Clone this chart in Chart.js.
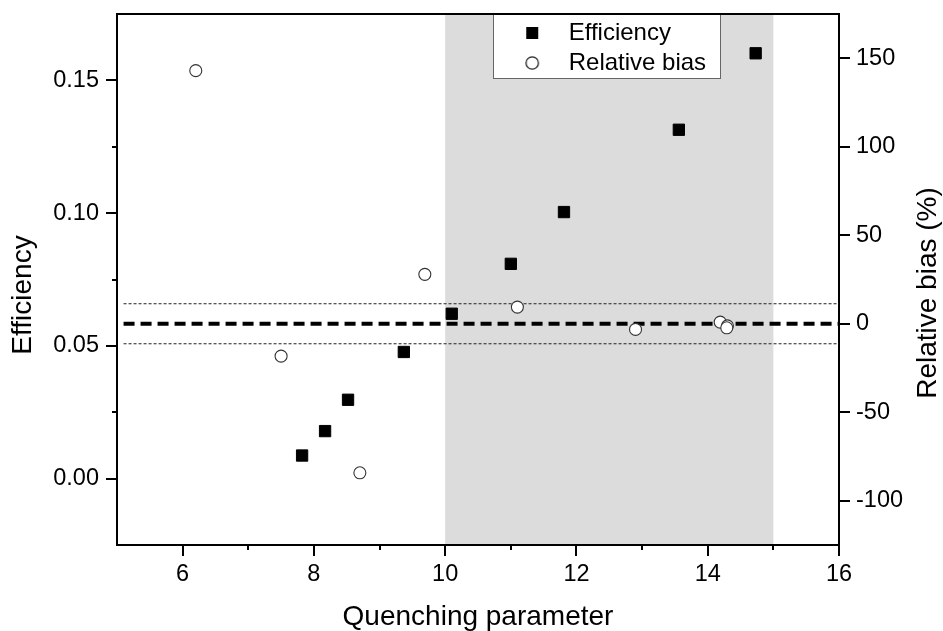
<!DOCTYPE html>
<html>
<head>
<meta charset="utf-8">
<script src="https://cdn.jsdelivr.net/npm/chart.js@4/dist/chart.umd.min.js"></script>
<style>
  html, body { margin: 0; padding: 0; background: #fff; }
  canvas { display: block; }
</style>
</head>
<body>
<canvas id="c" width="943" height="631"></canvas>
<script>
// ---- data ----
const effX = [7.82, 8.17, 8.52, 9.37, 10.10, 11.00, 11.81, 13.56, 14.73];
const effY = [0.0087, 0.0179, 0.0297, 0.0477, 0.0621, 0.0809, 0.1004, 0.1314, 0.1602];
const biasX = [6.20, 7.50, 8.70, 9.69, 11.10, 12.90, 14.19, 14.30, 14.29];
const biasY = [143.0, -18.3, -84.2, 27.9, 9.4, -3.2, 0.9, -1.2, -2.3];
const meanLine = 0;              // relative bias (%)
const bandLines = [11.3, -11.3]; // relative bias (%)
const shadeRange = [10, 15];     // quenching parameter
const seriesNames = ['Efficiency', 'Relative bias'];
const xTitle = 'Quenching parameter';
const yTitle = 'Efficiency';
const y2Title = 'Relative bias (%)';

const FONT = 'Liberation Sans, Arial, sans-serif';
Chart.defaults.font.family = FONT;
Chart.defaults.color = '#000';

const pts = (xs, ys) => xs.map((x, i) => ({x: x, y: ys[i]}));
const hline = (v) => [{x: 5.1, y: v}, {x: 16, y: v}];

// legend icons
function icon(kind) {
  const c = document.createElement('canvas');
  c.width = 16; c.height = 16;
  const g = c.getContext('2d');
  if (kind === 'rect') {
    g.fillStyle = '#000';
    g.fillRect(2, 2, 12, 12);
  } else {
    g.beginPath();
    g.arc(8, 8, 6.2, 0, Math.PI * 2);
    g.fillStyle = '#fff'; g.fill();
    g.lineWidth = 1.3; g.strokeStyle = '#222'; g.stroke();
  }
  return c;
}
const legendIcons = [icon('rect'), icon('circle')];

const LEG = {x: 493, w: 227, h: 64};

const noPad = (s) => { s.paddingTop = 0; s.paddingBottom = 0; s.paddingLeft = 0; s.paddingRight = 0; };

const decor = {
  id: 'decor',
  beforeDraw(chart) {
    const {ctx, chartArea: a, scales: {x}} = chart;
    ctx.save();
    ctx.fillStyle = '#fff';
    ctx.fillRect(0, 0, chart.width, chart.height);
    const x0 = x.getPixelForValue(shadeRange[0]);
    const x1 = x.getPixelForValue(shadeRange[1]);
    ctx.fillStyle = '#dcdcdc';
    ctx.fillRect(x0, a.top, x1 - x0, a.bottom - a.top);
    // legend frame
    ctx.fillStyle = '#fff';
    ctx.fillRect(LEG.x, a.top, LEG.w, LEG.h);
    ctx.strokeStyle = '#666';
    ctx.lineWidth = 1;
    ctx.strokeRect(LEG.x + 0.5, a.top + 0.5, LEG.w, LEG.h);
    ctx.restore();
    // move legend inside the box
    const lg = chart.legend;
    lg.left = LEG.x + 8.7;
    lg.top = a.top + 1;
    lg.right = LEG.x + LEG.w;
    lg.bottom = a.bottom;
  },
  afterDraw(chart) {
    const {ctx, chartArea: a, scales: {x, y, y2}} = chart;
    ctx.save();
    ctx.strokeStyle = '#000';
    ctx.lineWidth = 2;
    // top frame
    ctx.beginPath();
    ctx.moveTo(a.left - 1, a.top);
    ctx.lineTo(a.right + 1, a.top);
    ctx.stroke();
    ctx.beginPath();
    x.ticks.forEach(t => {
      if (t.value <= x.min) return;
      const p = Math.round(x.getPixelForValue(t.value));
      const len = Math.round(t.value) % 2 === 0 ? 11 : 5;
      ctx.moveTo(p, a.bottom);
      ctx.lineTo(p, a.bottom + len);
    });
    y.ticks.forEach(t => {
      if (t.value <= y.min || t.value >= y.max) return;
      const p = Math.round(y.getPixelForValue(t.value));
      const len = Math.round(t.value * 1000) % 50 === 0 ? 11 : 5;
      ctx.moveTo(a.left, p);
      ctx.lineTo(a.left - len, p);
    });
    y2.ticks.forEach(t => {
      if (Math.round(t.value) % 50 !== 0) return;
      const p = Math.round(y2.getPixelForValue(t.value));
      ctx.moveTo(a.right, p);
      ctx.lineTo(a.right + 11, p);
    });
    ctx.stroke();
    // vertical axis titles (both read bottom-to-top)
    ctx.fillStyle = '#000';
    ctx.font = '28px ' + FONT;
    ctx.textAlign = 'center';
    ctx.textBaseline = 'middle';
    const cy = (a.top + a.bottom) / 2 + 15.5;
    ctx.save();
    ctx.translate(23.6, cy);
    ctx.rotate(-Math.PI / 2);
    ctx.fillText(yTitle, 0, 0);
    ctx.restore();
    ctx.save();
    ctx.translate(928.3, cy - 2);
    ctx.rotate(-Math.PI / 2);
    ctx.fillText(y2Title, 0, 0);
    ctx.restore();
    ctx.restore();
  }
};

new Chart(document.getElementById('c'), {
  type: 'scatter',
  data: {
    datasets: [
      {
        label: seriesNames[0],
        data: pts(effX, effY),
        yAxisID: 'y',
        pointStyle: 'rect',
        pointRadius: 8,
        backgroundColor: '#000',
        borderColor: '#000',
        borderWidth: 1,
        order: 1
      },
      {
        label: seriesNames[1],
        data: pts(biasX, biasY),
        yAxisID: 'y2',
        pointStyle: 'circle',
        pointRadius: 6,
        backgroundColor: '#fff',
        borderColor: '#333',
        borderWidth: 1.1,
        order: 0
      },
      {
        label: 'mean',
        data: hline(meanLine),
        yAxisID: 'y2',
        showLine: true,
        pointRadius: 0,
        borderColor: '#000',
        borderWidth: 4,
        borderDash: [11, 6],
        order: 5
      },
      {
        label: 'upper',
        data: hline(bandLines[0]),
        yAxisID: 'y2',
        showLine: true,
        pointRadius: 0,
        borderColor: '#222',
        borderWidth: 1,
        borderDash: [3, 2],
        order: 6
      },
      {
        label: 'lower',
        data: hline(bandLines[1]),
        yAxisID: 'y2',
        showLine: true,
        pointRadius: 0,
        borderColor: '#222',
        borderWidth: 1,
        borderDash: [3, 2],
        order: 6
      }
    ]
  },
  options: {
    responsive: false,
    animation: false,
    events: [],
    layout: { padding: { top: 14, left: 0, right: 0, bottom: 0 } },
    plugins: {
      tooltip: { enabled: false },
      legend: {
        position: 'chartArea',
        align: 'start',
        labels: {
          usePointStyle: true,
          pointStyleWidth: 49,
          boxHeight: 12,
          padding: 6,
          color: '#000',
          font: { size: 24, family: FONT },
          generateLabels(chart) {
            const items = Chart.defaults.plugins.legend.labels.generateLabels(chart)
              .filter(it => it.datasetIndex < 2)
              .sort((p, q) => p.datasetIndex - q.datasetIndex);
            items.forEach(it => { it.pointStyle = legendIcons[it.datasetIndex]; });
            return items;
          }
        }
      }
    },
    scales: {
      x: {
        type: 'linear',
        position: 'bottom',
        min: 5, max: 16,
        afterFit(s) { s.height = 86; noPad(s); },
        ticks: {
          stepSize: 1,
          autoSkip: false,
          maxRotation: 0,
          padding: 5,
          font: { size: 23.5 },
          color: '#000',
          callback: v => (Math.round(v) % 2 === 0 ? String(v) : '')
        },
        grid: { display: true, drawOnChartArea: false, drawTicks: true, tickLength: 10, tickColor: 'rgba(0,0,0,0)' },
        border: { display: true, color: '#000', width: 2 },
        title: { display: true, text: xTitle, font: { size: 28, lineHeight: 1 }, color: '#000', padding: { top: 0, bottom: 0 } }
      },
      y: {
        type: 'linear',
        position: 'left',
        min: -0.025, max: 0.175,
        afterFit(s) { s.width = 117; noPad(s); },
        ticks: {
          stepSize: 0.025,
          autoSkip: false,
          padding: 8,
          font: { size: 23.5 },
          color: '#000',
          callback: v => {
            const r = Math.round(v * 1000);
            return r % 50 === 0 ? (r / 1000).toFixed(2) : '';
          }
        },
        grid: { display: true, drawOnChartArea: false, drawTicks: true, tickLength: 10, tickColor: 'rgba(0,0,0,0)' },
        border: { display: true, color: '#000', width: 2 },
        title: { display: false }
      },
      y2: {
        type: 'linear',
        position: 'right',
        min: -125, max: 175,
        afterFit(s) { s.width = 104; noPad(s); },
        ticks: {
          stepSize: 25,
          autoSkip: false,
          padding: 7,
          font: { size: 23.5 },
          color: '#000',
          callback: v => (Math.round(v) % 50 === 0 ? String(v) : '')
        },
        grid: { display: true, drawOnChartArea: false, drawTicks: true, tickLength: 10, tickColor: 'rgba(0,0,0,0)' },
        border: { display: true, color: '#000', width: 2 },
        title: { display: false }
      }
    }
  },
  plugins: [decor]
});
</script>
</body>
</html>
